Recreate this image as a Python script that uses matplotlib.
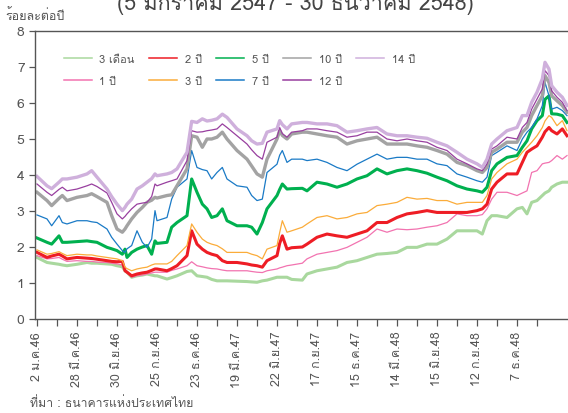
import matplotlib
matplotlib.use("Agg")
from matplotlib import pyplot as plt
from matplotlib.ticker import FixedLocator

plt.rcParams['font.family'] = ['Loma', 'Noto Sans Thai Looped', 'DejaVu Sans']

# business-day index of each sample
days = [0, 15, 22, 33, 38, 45, 60, 75, 82, 90,
        105, 112, 120, 128, 132, 135, 142, 150, 158, 165,
        172, 177, 180, 195, 202, 210, 225, 232, 240, 248,
        255, 262, 270, 278, 285, 300, 315, 322, 330, 338,
        345, 360, 364, 368, 375, 382, 398, 405, 420, 435,
        450, 465, 480, 495, 510, 525, 540, 555, 570, 585,
        600, 615, 630, 645, 660, 668, 675, 682, 690, 705,
        720, 728, 735, 742, 750, 758, 762, 768, 772, 780,
        788, 795]

m3 = [1.71, 1.57, 1.55, 1.52, 1.50, 1.48, 1.52, 1.57, 1.55, 1.55,
      1.53, 1.52, 1.48, 1.45, 1.34, 1.30, 1.16, 1.20, 1.22, 1.25,
      1.22, 1.20, 1.20, 1.11, 1.15, 1.20, 1.32, 1.34, 1.20, 1.18,
      1.16, 1.10, 1.06, 1.06, 1.06, 1.05, 1.04, 1.03, 1.02, 1.06,
      1.08, 1.16, 1.16, 1.16, 1.16, 1.10, 1.08, 1.25, 1.34, 1.39,
      1.44, 1.57, 1.62, 1.71, 1.80, 1.82, 1.85, 1.99, 1.99, 2.08,
      2.08, 2.22, 2.45, 2.45, 2.45, 2.36, 2.73, 2.87, 2.87, 2.82,
      3.06, 3.10, 2.92, 3.24, 3.29, 3.43, 3.50, 3.56, 3.66, 3.75,
      3.80, 3.80]
y1 = [1.76, 1.67, 1.68, 1.71, 1.66, 1.60, 1.62, 1.60, 1.60, 1.58,
      1.57, 1.55, 1.53, 1.50, 1.39, 1.30, 1.16, 1.20, 1.22, 1.25,
      1.28, 1.30, 1.30, 1.30, 1.35, 1.39, 1.48, 1.59, 1.48, 1.45,
      1.42, 1.40, 1.39, 1.36, 1.34, 1.34, 1.34, 1.32, 1.30, 1.29,
      1.34, 1.39, 1.42, 1.44, 1.48, 1.50, 1.55, 1.67, 1.80, 1.85,
      1.90, 1.99, 2.13, 2.27, 2.50, 2.41, 2.50, 2.48, 2.50, 2.55,
      2.59, 2.68, 2.92, 2.87, 2.87, 2.90, 3.06, 3.33, 3.52, 3.52,
      3.43, 3.50, 3.56, 4.07, 4.12, 4.31, 4.33, 4.35, 4.40, 4.54,
      4.44, 4.54]
y2 = [1.85, 1.71, 1.75, 1.80, 1.75, 1.67, 1.71, 1.69, 1.68, 1.66,
      1.62, 1.60, 1.59, 1.60, 1.34, 1.30, 1.20, 1.25, 1.28, 1.30,
      1.35, 1.39, 1.39, 1.34, 1.40, 1.48, 1.76, 2.45, 2.08, 1.94,
      1.85, 1.80, 1.76, 1.62, 1.57, 1.57, 1.53, 1.50, 1.48, 1.44,
      1.62, 1.76, 2.10, 2.31, 1.94, 1.98, 2.00, 2.08, 2.27, 2.36,
      2.31, 2.27, 2.36, 2.45, 2.68, 2.68, 2.82, 2.92, 2.96, 3.01,
      2.96, 2.96, 2.96, 2.96, 3.01, 3.06, 3.19, 3.61, 3.80, 4.03,
      4.03, 4.35, 4.63, 4.72, 4.81, 5.05, 5.20, 5.32, 5.23, 5.14,
      5.28, 5.09]
y3 = [1.92, 1.80, 1.82, 1.87, 1.82, 1.76, 1.80, 1.78, 1.78, 1.75,
      1.71, 1.69, 1.67, 1.62, 1.44, 1.40, 1.34, 1.39, 1.42, 1.44,
      1.50, 1.53, 1.53, 1.53, 1.60, 1.76, 2.04, 2.64, 2.41, 2.22,
      2.13, 2.08, 2.04, 1.95, 1.85, 1.85, 1.85, 1.80, 1.76, 1.67,
      1.94, 2.04, 2.40, 2.73, 2.41, 2.45, 2.55, 2.64, 2.82, 2.87,
      2.78, 2.82, 2.92, 2.96, 3.15, 3.19, 3.24, 3.38, 3.33, 3.35,
      3.29, 3.29, 3.19, 3.24, 3.24, 3.24, 3.43, 3.89, 4.07, 4.31,
      4.44, 4.63, 4.77, 4.91, 5.09, 5.32, 5.50, 5.65, 5.60, 5.37,
      5.51, 5.23]
y5 = [2.25, 2.13, 2.08, 2.31, 2.13, 2.13, 2.15, 2.17, 2.15, 2.13,
      1.99, 1.95, 1.90, 1.80, 1.94, 1.71, 1.85, 1.94, 2.00, 2.04,
      1.80, 2.17, 2.10, 2.13, 2.55, 2.68, 2.87, 3.89, 3.52, 3.19,
      3.06, 2.82, 2.87, 3.06, 2.73, 2.59, 2.59, 2.55, 2.36, 2.68,
      3.06, 3.43, 3.60, 3.75, 3.61, 3.62, 3.63, 3.56, 3.80, 3.75,
      3.66, 3.75, 3.89, 3.98, 4.17, 4.03, 4.12, 4.17, 4.12, 4.05,
      3.94, 3.84, 3.70, 3.61, 3.56, 3.52, 3.66, 4.12, 4.31, 4.49,
      4.54, 4.77, 4.95, 5.28, 5.51, 5.65, 6.10, 6.20, 5.70, 5.69,
      5.65, 5.46]
y7 = [2.89, 2.78, 2.59, 2.87, 2.68, 2.64, 2.73, 2.73, 2.70, 2.68,
      2.50, 2.27, 2.08, 1.90, 1.85, 1.95, 2.04, 2.45, 2.13, 1.99,
      2.22, 3.01, 2.73, 2.82, 3.33, 3.66, 3.89, 4.68, 4.21, 4.15,
      4.12, 3.89, 4.07, 4.21, 3.89, 3.70, 3.66, 3.43, 3.29, 3.33,
      4.07, 4.30, 4.55, 4.68, 4.35, 4.44, 4.44, 4.40, 4.44, 4.35,
      4.21, 4.12, 4.30, 4.44, 4.58, 4.44, 4.49, 4.49, 4.44, 4.44,
      4.31, 4.26, 4.03, 3.94, 3.84, 3.80, 3.94, 4.54, 4.63, 4.81,
      4.68, 5.00, 5.19, 5.32, 5.56, 5.93, 6.57, 6.20, 5.83, 5.88,
      5.79, 5.65]
y10 = [3.52, 3.29, 3.15, 3.35, 3.43, 3.29, 3.38, 3.43, 3.48, 3.40,
       3.24, 2.87, 2.50, 2.41, 2.50, 2.59, 2.78, 2.96, 3.10, 3.24,
       3.30, 3.38, 3.36, 3.43, 3.45, 3.70, 4.17, 5.09, 5.05, 4.77,
       5.00, 5.00, 5.05, 5.19, 5.00, 4.68, 4.44, 4.25, 4.03, 3.94,
       4.44, 5.00, 5.23, 5.10, 5.00, 5.14, 5.19, 5.19, 5.14, 5.09,
       5.05, 4.86, 4.95, 5.00, 5.05, 4.86, 4.86, 4.86, 4.81, 4.77,
       4.68, 4.58, 4.35, 4.26, 4.12, 4.07, 4.21, 4.63, 4.72, 4.91,
       4.91, 5.19, 5.32, 5.65, 5.93, 6.20, 6.76, 6.57, 6.20, 6.06,
       5.93, 5.74]
y12 = [3.75, 3.52, 3.43, 3.60, 3.66, 3.56, 3.61, 3.70, 3.75, 3.68,
       3.50, 3.24, 2.92, 2.78, 2.85, 2.92, 3.06, 3.19, 3.22, 3.24,
       3.40, 3.75, 3.70, 3.80, 3.84, 3.89, 4.40, 5.23, 5.19, 5.20,
       5.23, 5.25, 5.28, 5.42, 5.32, 5.09, 4.86, 4.70, 4.54, 4.44,
       4.91, 5.05, 5.32, 5.15, 5.05, 5.19, 5.23, 5.28, 5.28, 5.23,
       5.19, 5.05, 5.09, 5.19, 5.19, 5.00, 4.95, 5.00, 4.95, 4.91,
       4.77, 4.68, 4.44, 4.31, 4.17, 4.12, 4.31, 4.72, 4.81, 5.05,
       5.00, 5.32, 5.46, 5.83, 6.11, 6.39, 6.90, 6.76, 6.34, 6.16,
       6.02, 5.79]
y14 = [3.96, 3.70, 3.62, 3.80, 3.89, 3.89, 3.94, 4.03, 4.12, 3.94,
       3.61, 3.40, 3.19, 3.01, 3.10, 3.19, 3.33, 3.61, 3.70, 3.80,
       3.90, 4.03, 3.98, 4.03, 4.07, 4.17, 4.63, 5.49, 5.46, 5.56,
       5.50, 5.52, 5.56, 5.69, 5.60, 5.28, 5.09, 4.95, 4.86, 4.88,
       5.19, 5.28, 5.51, 5.40, 5.28, 5.42, 5.46, 5.46, 5.42, 5.42,
       5.37, 5.19, 5.23, 5.28, 5.32, 5.14, 5.09, 5.09, 5.05, 5.02,
       4.91, 4.81, 4.63, 4.44, 4.31, 4.21, 4.44, 4.86, 5.00, 5.23,
       5.32, 5.65, 5.65, 6.02, 6.30, 6.67, 7.13, 6.94, 6.48, 6.30,
       6.16, 5.93]

tick_days = [0, 60, 120, 180, 240, 300, 360, 420, 480, 540, 600, 660, 720]
tick_labels = ["2 ม.ค.46", "28 มี.ค.46", "30 มิ.ย.46", "25 ก.ย.46", "23 ธ.ค.46",
               "19 มี.ค.47", "22 มิ.ย.47", "17 ก.ย.47", "15 ธ.ค.47", "14 มี.ค.48",
               "15 มิ.ย.48", "12 ก.ย.48", "7 ธ.ค.48"]

# (label, values, colour, width)
series = [
    ("3 เดือน", m3, "#a9d89e", 2.2),
    ("1 ปี", y1, "#f273b0", 0.9),
    ("2 ปี", y2, "#ee1d25", 2.2),
    ("3 ปี", y3, "#fbac3a", 0.9),
    ("5 ปี", y5, "#00b04f", 2.2),
    ("7 ปี", y7, "#1a7ac6", 0.9),
    ("10 ปี", y10, "#a3a3a3", 2.4),
    ("12 ปี", y12, "#983f9f", 0.9),
    ("14 ปี", y14, "#cfb0dc", 2.4),
]

fig = plt.figure(figsize=(5.68, 4.14), dpi=100)
ax = fig.add_axes([35 / 568, 1 - 320 / 414, 540 / 568, 288 / 414])

handles = []
for label, vals, col, lw in series:
    ax.plot(days, vals, color=col, lw=lw, solid_joinstyle='round')
    h, = ax.plot([], [], color=col, lw=1.1, label=label)
    handles.append(h)

ax.set_xlim(-3, 807)
ax.set_ylim(0, 8)
ax.set_yticks(range(9))
ax.xaxis.set_major_locator(FixedLocator(tick_days))
ax.xaxis.set_minor_locator(FixedLocator([d + 30 for d in tick_days]))
ax.set_xticklabels(tick_labels, rotation=90, fontsize=9, color='#555555')
ax.tick_params(axis='y', labelsize=10, colors='#555555', length=4, width=0.9)
ax.tick_params(axis='x', which='both', length=5, width=0.9, color='#555555')
for s in ('left', 'bottom', 'top'):
    ax.spines[s].set_color('#555555')
    ax.spines[s].set_linewidth(1.0)
ax.spines['right'].set_visible(False)

leg = ax.legend(handles=handles, ncol=5, loc='upper left', bbox_to_anchor=(0.035, 0.955),
                frameon=False, fontsize=8, handlelength=2.5, handletextpad=0.7,
                columnspacing=1.3, labelspacing=1.1)
for t in leg.get_texts():
    t.set_color('#555555')

fig.text(295 / 568, 1 - 10 / 414, "(5 มกราคม 2547 - 30 ธันวาคม 2548)", ha='center',
         va='baseline', fontsize=15.5, color='#444444')
fig.text(5 / 568, 1 - 16 / 414, "ร้อยละต่อปี", ha='left', va='center', fontsize=9,
         color='#555555')
fig.text(30 / 568, 1 - 404 / 414, "ที่มา : ธนาคารแห่งประเทศไทย", ha='left', va='center',
         fontsize=8.8, color='#555555')

fig.savefig("out.png", dpi=100)
